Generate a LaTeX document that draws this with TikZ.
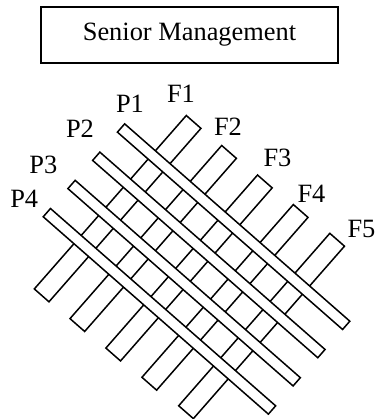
\documentclass[tikz,border=0pt]{standalone}
\usepackage{fontspec}
\setmainfont{Liberation Serif}
\usepackage{tikz}

\begin{document}
\begin{tikzpicture}[x=1pt, y=1pt,
    font=\fontsize{26.4}{30}\selectfont,
    bar/.style={draw, fill=white, line width=1.5pt},
    tag/.style={inner sep=0pt}]
    \useasboundingbox (0,0) rectangle (375,-419);

    \node (mgmt) [draw, line width=2pt, minimum width=297, minimum height=56] at (189.5,-35) {Senior Management};

    % the weave, turned so that the P bars run down to the right
    \begin{scope}[rotate=-41.23]
        % F bars go underneath
        \foreach \u/\top/\bot [count=\i] in {226/35.9/-194.7, 272.4/36.7/-193.5, 318.8/38.1/-192, 365.2/39.5/-190.2, 411.6/41.9/-187.4} {
            \draw[bar] (\u-9.75,\bot) rectangle (\u+9.75,\top);
        }
        % P bars lie on top
        \foreach \v [count=\i] in {-16.5, -54.1, -91.6, -129.05} {
            \draw[bar] (175.4,\v-5.5) rectangle (474.8,\v+5.5);
        }
    \end{scope}

    \node (lp1) [tag] at (130,-103.5) {P1};
    \node (lp2) [tag] at (80,-128.5) {P2};
    \node (lp3) [tag] at (43.3,-165) {P3};
    \node (lp4) [tag] at (24.2,-199) {P4};

    \node (lf1) [tag] at (181,-94) {F1};
    \node (lf2) [tag] at (228,-127) {F2};
    \node (lf3) [tag] at (277.5,-157.5) {F3};
    \node (lf4) [tag] at (311.5,-194) {F4};
    \node (lf5) [tag] at (361.5,-229) {F5};
\end{tikzpicture}
\end{document}
